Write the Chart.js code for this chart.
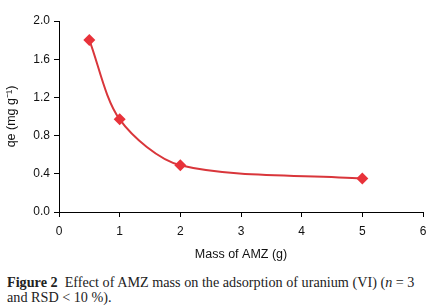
<!DOCTYPE html>
<html>
<head>
<meta charset="utf-8">
<script src="https://cdn.jsdelivr.net/npm/chart.js@4.4.0/dist/chart.umd.min.js"></script>
<style>
  html, body { margin: 0; padding: 0; background: #fff; overflow: hidden; width: 428px; height: 307px; }
  #wrap { position: absolute; left: 0; top: 0; width: 436px; height: 262px; }
  #caption { position: absolute; left: 7px; top: 275px; width: 470px; white-space: nowrap;
    font-family: "Liberation Serif", "DejaVu Serif", serif; font-size: 14.2px; line-height: 14.5px; color: #222; }
  #caption b { font-weight: bold; }
</style>
</head>
<body>
<div id="wrap"><canvas id="chart"></canvas></div>
<div id="caption"><b>Figure 2</b>&nbsp; Effect of AMZ mass on the adsorption of uranium (VI) (<i>n</i> = 3<br>and RSD &lt; 10 %).</div>
<script>
const massAMZ = [0.5, 1, 2, 5];
const qeValues = [1.80, 0.97, 0.49, 0.35];
const xTicks = [0, 1, 2, 3, 4, 5, 6];
const yTicks = [0.0, 0.4, 0.8, 1.2, 1.6, 2.0];

const points = massAMZ.map((m, i) => ({ x: m, y: qeValues[i] }));

const ctx = document.getElementById('chart').getContext('2d');
const config = {
    type: 'line',
    data: {
        datasets: [{
            data: points,
            borderColor: '#d9363b',
            backgroundColor: '#e8323a',
            borderWidth: 2,
            tension: 0.3,
            pointStyle: 'rectRot',
            pointRadius: 6,
            pointHoverRadius: 6,
            pointBorderWidth: 0,
            fill: false
        }]
    },
    options: {
        responsive: false,
        animation: false,
        devicePixelRatio: 1,
        layout: { padding: { left: 0, top: 21, right: 13, bottom: 0 } },
        plugins: { legend: { display: false }, tooltip: { enabled: false } },
        scales: {
            x: {
                type: 'linear',
                min: 0,
                max: 6,
                afterBuildTicks: axis => { axis.ticks = xTicks.map(v => ({ value: v })); },
                afterFit: axis => { axis.height = 50; },
                ticks: { color: '#111', font: { family: 'Liberation Sans', size: 12 }, padding: 7, maxRotation: 0 },
                grid: { drawOnChartArea: false, drawTicks: true, tickLength: 5, tickColor: '#000' },
                border: { display: true, color: '#000', width: 1 },
                title: { display: true, text: 'Mass of AMZ (g)', color: '#111', font: { family: 'Liberation Sans', size: 12.5 }, padding: { top: 4.5, bottom: 0 } }
            },
            y: {
                min: 0,
                max: 2,
                afterBuildTicks: axis => { axis.ticks = yTicks.map(v => ({ value: v })); },
                afterFit: axis => { axis.width = 59; },
                ticks: { color: '#111', font: { family: 'Liberation Sans', size: 12 }, padding: 4, callback: v => v.toFixed(1) },
                grid: { drawOnChartArea: false, drawTicks: true, tickLength: 5, tickColor: '#000' },
                border: { display: true, color: '#000', width: 1 },
                title: { display: true, text: 'qe (mg g\u207B\u00B9)', color: '#111', font: { family: 'Liberation Sans', size: 12.5 }, padding: { top: 4.5, bottom: 0 } }
            }
        }
    }
};

const canvas = document.getElementById('chart');
canvas.width = 436;
canvas.height = 262;
const AdsorptionChart = new Chart(ctx, config);
AdsorptionChart.update();
</script>
</body>
</html>
